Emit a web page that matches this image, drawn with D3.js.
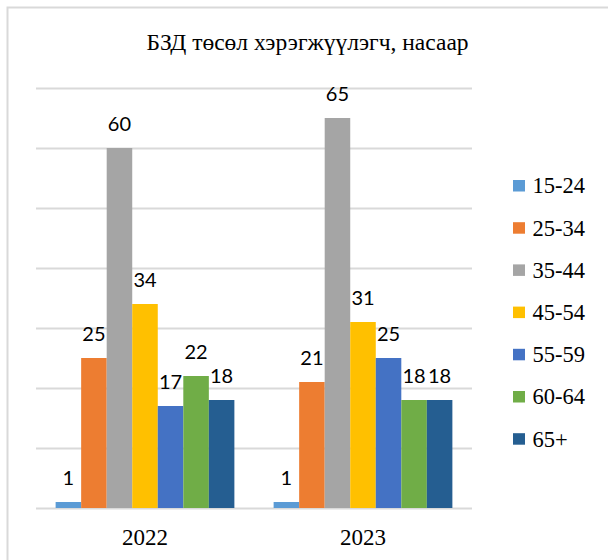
<!DOCTYPE html>
<html>
<head>
<meta charset="utf-8">
<script src="https://cdn.jsdelivr.net/npm/d3@7"></script>
<style>
html,body{margin:0;padding:0;background:#fff;}
svg{display:block;}
</style>
</head>
<body>
<svg id="chart" width="608" height="560"></svg>
<script>
const title = "БЗД төсөл хэрэгжүүлэгч, насаар";
const years = ["2022", "2023"];
const ageGroups = ["15-24", "25-34", "35-44", "45-54", "55-59", "60-64", "65+"];
const values2022 = [1, 25, 60, 34, 17, 22, 18];
const values2023 = [1, 21, 65, 31, 25, 18, 18];
const colors = ["#5B9BD5", "#ED7D31", "#A5A5A5", "#FFC000", "#4472C4", "#70AD47", "#255E91"];
const yTicks = [0, 10, 20, 30, 40, 50, 60, 70];

const seriesByYear = {"2022": values2022, "2023": values2023};
const SERIF = '"Liberation Serif", "Times New Roman", serif';
const SANS = 'Lato, "Open Sans", sans-serif';

const svg = d3.select("#chart");
const plot = {left: 36, right: 472, top: 88, bottom: 508};

// outer border
svg.append("rect")
  .attr("x", 7.5).attr("y", 7.5)
  .attr("width", 640).attr("height", 640)
  .attr("fill", "none")
  .attr("stroke", "#d9d9d9")
  .attr("stroke-width", 2);

// title
svg.append("text")
  .style("font-family", SERIF)
  .style("font-size", "23.5px")
  .attr("x", 307.5).attr("y", 50)
  .attr("text-anchor", "middle")
  .attr("fill", "#000")
  .text(title);

const x0 = d3.scaleBand().domain(years)
  .range([plot.left, plot.right])
  .paddingInner(0.18).paddingOuter(0.09);
const x1 = d3.scaleBand().domain(ageGroups)
  .range([0, x0.bandwidth()]).padding(0);
const y = d3.scaleLinear().domain([0, 70]).range([plot.bottom, plot.top]);

// gridlines
const yAxis = d3.axisLeft(y).tickValues(yTicks)
  .tickSize(-(plot.right - plot.left)).tickFormat("");
const gy = svg.append("g")
  .attr("transform", `translate(${plot.left},0)`)
  .call(yAxis);
gy.select(".domain").remove();
gy.selectAll(".tick line")
  .attr("stroke", "#d9d9d9")
  .attr("stroke-width", 2);

// bars
const groups = svg.append("g").selectAll("g")
  .data(years).join("g")
  .attr("transform", d => `translate(${x0(d)},0)`);

groups.selectAll("rect")
  .data(yr => ageGroups.map((a, i) => ({age: a, i, v: seriesByYear[yr][i]})))
  .join("rect")
  .attr("x", d => x1(d.age))
  .attr("y", d => y(d.v))
  .attr("width", x1.bandwidth())
  .attr("height", d => y(0) - y(d.v))
  .attr("fill", d => colors[d.i]);

groups.selectAll("text")
  .data(yr => ageGroups.map((a, i) => ({age: a, i, v: seriesByYear[yr][i]})))
  .join("text")
  .style("font-family", SANS)
  .style("font-size", "20px")
  .attr("x", d => x1(d.age) + x1.bandwidth() / 2)
  .attr("y", d => y(d.v) - 17)
  .attr("text-anchor", "middle")
  .attr("fill", "#000")
  .text(d => d.v);

// x axis labels
const xAxis = d3.axisBottom(x0).tickSize(0).tickPadding(0);
const gx = svg.append("g")
  .attr("transform", `translate(0,${plot.bottom})`)
  .call(xAxis);
gx.select(".domain").remove();
gx.selectAll(".tick text")
  .style("font-family", SERIF)
  .style("font-size", "23px")
  .attr("dy", 0)
  .attr("y", 37)
  .attr("fill", "#000");

// legend
const legend = svg.append("g");
const li = legend.selectAll("g").data(ageGroups).join("g")
  .attr("transform", (d, i) => `translate(513,${180 + i * 42.2})`);
li.append("rect")
  .attr("width", 12).attr("height", 11.5)
  .attr("fill", (d, i) => colors[i]);
li.append("text")
  .style("font-family", SERIF)
  .style("font-size", "22.5px")
  .attr("x", 19.5).attr("y", 13.3)
  .attr("fill", "#000")
  .text(d => d);
</script>
</body>
</html>
